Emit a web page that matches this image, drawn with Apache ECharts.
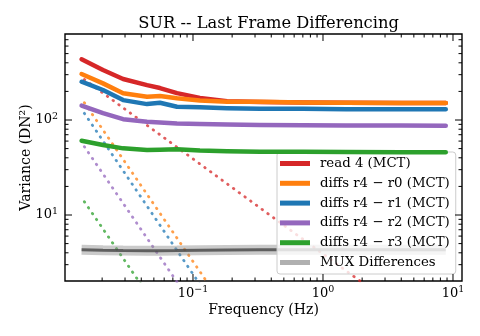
<!DOCTYPE html>
<html>
<head>
<meta charset="utf-8">
<script src="https://cdn.jsdelivr.net/npm/echarts@6/dist/echarts.min.js"></script>
<style>
  html, body { margin: 0; padding: 0; background: #fff; }
  #chart { width: 480px; height: 336px; }
</style>
</head>
<body>
<div id="chart"></div>
<script>
var FONT = 'DejaVu Serif';

// frequencies (Hz) shared by the measured curves
var freqs = [0.0139, 0.0203, 0.029, 0.0443, 0.0557, 0.0753, 0.113, 0.183, 0.327, 0.7, 1.5, 4, 8.8];

var read4 = [436, 336, 270, 233, 217, 192, 171, 158, 155, 153, 152, 151, 151];
var r4r0 = [305, 243, 191, 176, 179, 169, 160, 156, 156, 153, 152, 151, 151];
var r4r1 = [253, 207, 162, 147, 152, 138, 136, 133, 131.5, 131, 130, 130, 130];
var r4r2 = [142, 118, 102, 96, 94, 92, 90.5, 89.5, 88.6, 88, 87.5, 87.3, 87.1];
var r4r3 = [60.5, 54.6, 50.3, 48.3, 48.6, 49.2, 47.8, 47, 46.4, 46.2, 46, 45.8, 45.7];
var mux = [4.3, 4.25, 4.22, 4.2, 4.2, 4.22, 4.25, 4.28, 4.3, 4.3, 4.3, 4.3, 4.3];

// dotted reference slopes: [start, end] points
var read4Fit = [[0.0146, 267], [2.2, 1.77]];
var r4r0Fit = [[0.0146, 152], [0.15, 1.44]];
var r4r1Fit = [[0.0146, 117.6], [0.12, 1.65]];
var r4r2Fit = [[0.0146, 52.4], [0.08, 1.75]];
var r4r3Fit = [[0.0146, 13.8], [0.042, 1.67]];

var legendNames = ['read 4 (MCT)', 'diffs r4 \u2212 r0 (MCT)', 'diffs r4 \u2212 r1 (MCT)',
  'diffs r4 \u2212 r2 (MCT)', 'diffs r4 \u2212 r3 (MCT)', 'MUX Differences'];
var colors = ['#d62728', '#ff7f0e', '#1f77b4', '#9467bd', '#2ca02c', '#b0b0b0'];

// tick marks
var xMajor = [0.1, 1, 10];
var xMinor = [0.02, 0.03, 0.04, 0.05, 0.06, 0.07, 0.08, 0.09,
  0.2, 0.3, 0.4, 0.5, 0.6, 0.7, 0.8, 0.9, 2, 3, 4, 5, 6, 7, 8, 9];
var yMajor = [10, 100];
var yMinor = [3, 4, 5, 6, 7, 8, 9, 20, 30, 40, 50, 60, 70, 80, 90,
  200, 300, 400, 500, 600, 700, 800];

function pairs(xs, ys) {
  return xs.map(function (x, i) { return [x, ys[i]]; });
}

function supLabel(v) {
  var e = Math.round(Math.log10(v));
  return '{b|10}{e|' + String(e).replace('-', '\u2212') + '}';
}

var labelRich = {
  b: { fontFamily: FONT, fontSize: 13, color: '#000', lineHeight: 17 },
  e: { fontFamily: FONT, fontSize: 9.5, color: '#000', verticalAlign: 'top', lineHeight: 17 }
};

var tickData = [];
xMajor.forEach(function (v) { tickData.push([v, 10, 0, 1]); });
xMinor.forEach(function (v) { tickData.push([v, 10, 0, 0]); });
yMajor.forEach(function (v) { tickData.push([1, v, 1, 1]); });
yMinor.forEach(function (v) { tickData.push([1, v, 1, 0]); });

function renderTick(params, api) {
  var cs = params.coordSys;
  var isY = api.value(2) === 1;
  var len = api.value(3) === 1 ? 7 : 3.5;
  var p = api.coord([api.value(0), api.value(1)]);
  var st = { stroke: '#000', lineWidth: 1 };
  if (!isY) {
    if (p[0] < cs.x + 1 || p[0] > cs.x + cs.width - 1) return;
    return { type: 'group', children: [
      { type: 'line', shape: { x1: p[0], y1: cs.y + cs.height, x2: p[0], y2: cs.y + cs.height - len }, style: st },
      { type: 'line', shape: { x1: p[0], y1: cs.y, x2: p[0], y2: cs.y + len }, style: st }
    ] };
  }
  if (p[1] < cs.y + 1 || p[1] > cs.y + cs.height - 1) return;
  return { type: 'group', children: [
    { type: 'line', shape: { x1: cs.x, y1: p[1], x2: cs.x + len, y2: p[1] }, style: st },
    { type: 'line', shape: { x1: cs.x + cs.width, y1: p[1], x2: cs.x + cs.width - len, y2: p[1] }, style: st }
  ] };
}

function dotted(name, data, color) {
  return {
    name: name, type: 'line', data: data, showSymbol: false, silent: true, z: 2,
    lineStyle: { color: color, width: 2.8, type: [0.5, 6.6], cap: 'round', opacity: 0.75 }
  };
}

function solid(name, data, color, z) {
  return {
    name: name, type: 'line', data: data, showSymbol: false, z: z,
    itemStyle: { color: color },
    lineStyle: { color: color, width: 4.5, cap: 'round', join: 'round' }
  };
}

var chart = echarts.init(document.getElementById('chart'), null, { renderer: 'canvas' });

var option = {
  animation: false,
  backgroundColor: '#fff',
  title: {
    text: 'SUR -- Last Frame Differencing',
    left: 263.5,
    textAlign: 'center',
    top: 11,
    textStyle: { fontFamily: FONT, fontSize: 16.3, fontWeight: 'normal', color: '#000' }
  },
  grid: {
    left: 65, right: 18, top: 34, bottom: 55,
    show: true, borderColor: '#000', borderWidth: 1.4, backgroundColor: 'transparent'
  },
  legend: {
    orient: 'vertical',
    left: 277, top: 152,
    padding: [4, 6, 4, 3],
    itemGap: 4.8,
    itemWidth: 30, itemHeight: 5,
    icon: 'rect',
    backgroundColor: 'rgba(255,255,255,0.8)',
    borderColor: '#cccccc', borderWidth: 1, borderRadius: 3,
    textStyle: { fontFamily: FONT, fontSize: 13.3, color: '#000', lineHeight: 15, padding: [0, 0, 0, 5] },
    data: legendNames.map(function (n, i) { return { name: n, itemStyle: { color: colors[i] } }; })
  },
  xAxis: {
    type: 'log', logBase: 10, min: 0.01036, max: 11.73,
    name: 'Frequency (Hz)', nameLocation: 'middle', nameGap: 22, nameMoveOverlap: false,
    nameTextStyle: { fontFamily: FONT, fontSize: 14, color: '#000' },
    axisLine: { show: false }, axisTick: { show: false }, splitLine: { show: false },
    axisLabel: { margin: 4, showMinLabel: false, showMaxLabel: false, formatter: supLabel, rich: labelRich }
  },
  yAxis: {
    type: 'log', logBase: 10, min: 2.02, max: 804,
    name: 'Variance (DN\u00b2)', nameLocation: 'middle', nameGap: 32, nameRotate: 90, nameMoveOverlap: false,
    nameTextStyle: { fontFamily: FONT, fontSize: 14, color: '#000' },
    axisLine: { show: false }, axisTick: { show: false }, splitLine: { show: false },
    axisLabel: { margin: 7, showMinLabel: false, showMaxLabel: false, formatter: supLabel, rich: labelRich }
  },
  series: [
    dotted('fit read4', read4Fit, colors[0]),
    dotted('fit r0', r4r0Fit, colors[1]),
    dotted('fit r1', r4r1Fit, colors[2]),
    dotted('fit r2', r4r2Fit, colors[3]),
    dotted('fit r3', r4r3Fit, colors[4]),
    {
      name: legendNames[5], type: 'line', data: pairs(freqs, mux), showSymbol: false, z: 3,
      itemStyle: { color: colors[5] },
      lineStyle: { color: '#8a8a8a', width: 10, opacity: 0.45 }
    },
    {
      name: 'mux mean', type: 'line', data: pairs(freqs, mux), showSymbol: false, z: 3,
      lineStyle: { color: '#444', width: 3, opacity: 0.8 }
    },
    solid(legendNames[0], pairs(freqs, read4), colors[0], 4),
    solid(legendNames[1], pairs(freqs, r4r0), colors[1], 4),
    solid(legendNames[2], pairs(freqs, r4r1), colors[2], 4),
    solid(legendNames[3], pairs(freqs, r4r2), colors[3], 4),
    solid(legendNames[4], pairs(freqs, r4r3), colors[4], 4),
    {
      name: 'ticks', type: 'custom', data: tickData, renderItem: renderTick,
      silent: true, z: 10, clip: false
    }
  ]
};

chart.setOption(option);
</script>
</body>
</html>
